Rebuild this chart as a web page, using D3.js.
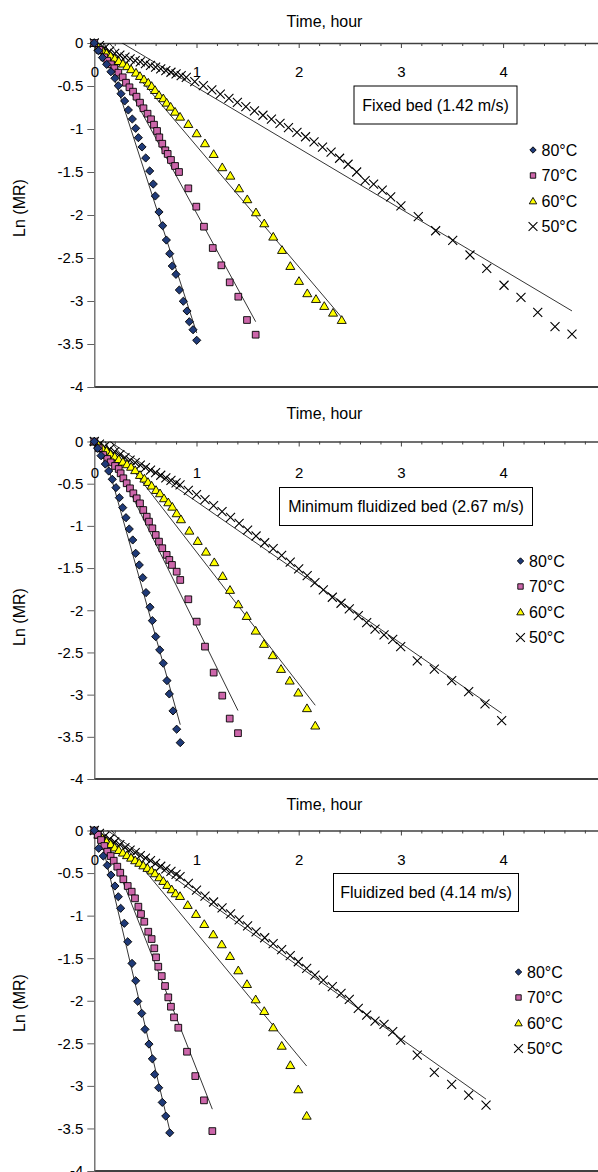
<!DOCTYPE html>
<html><head><meta charset="utf-8">
<script src="https://cdn.jsdelivr.net/npm/d3@7"></script>
<style>body{margin:0;background:#fff}svg{display:block}text{font-family:"Liberation Sans",Arial,sans-serif;fill:#000}</style>
</head><body><svg id="c" width="598" height="1172"></svg>
<script>
const seriesNames = ["80°C","70°C","60°C","50°C"];
const panelTitles = ["Fixed bed (1.42 m/s)","Minimum fluidized bed (2.67 m/s)","Fluidized bed (4.14 m/s)"];
const xAxisTitle = "Time, hour";
const yAxisTitle = "Ln (MR)";
const xTickValues = [0,1,2,3,4];
const xMinorTicks = [0.2,0.4,0.6,0.8,1.2,1.4,1.6,1.8,2.2,2.4,2.6,2.8,3.2,3.4,3.6,3.8,4.2,4.4,4.6,4.8];
const yTickValues = [0,-0.5,-1,-1.5,-2,-2.5,-3,-3.5,-4];

// Panel 1: fixed bed
const fixed80 = [[0,0],[0.04,-0.09],[0.08,-0.17],[0.121,-0.248],[0.163,-0.334],[0.202,-0.41],[0.235,-0.497],[0.261,-0.59],[0.297,-0.674],[0.333,-0.779],[0.372,-0.884],[0.405,-0.992],[0.431,-1.101],[0.467,-1.209],[0.503,-1.337],[0.542,-1.488],[0.577,-1.64],[0.597,-1.779],[0.633,-1.965],[0.669,-2.124],[0.705,-2.291],[0.738,-2.45],[0.763,-2.593],[0.799,-2.69],[0.832,-2.872],[0.871,-3.003],[0.907,-3.116],[0.93,-3.241],[0.966,-3.334],[1.002,-3.457]];
const fixed70 = [[0,0],[0.05,-0.08],[0.098,-0.166],[0.127,-0.206],[0.163,-0.248],[0.196,-0.294],[0.235,-0.345],[0.278,-0.399],[0.31,-0.462],[0.344,-0.515],[0.379,-0.566],[0.413,-0.624],[0.447,-0.694],[0.481,-0.759],[0.521,-0.822],[0.555,-0.887],[0.584,-0.95],[0.614,-1.023],[0.636,-1.097],[0.665,-1.171],[0.695,-1.248],[0.718,-1.29],[0.75,-1.36],[0.79,-1.43],[0.829,-1.5],[0.92,-1.69],[0.998,-1.903],[1.073,-2.136],[1.159,-2.384],[1.243,-2.585],[1.325,-2.783],[1.409,-2.95],[1.494,-3.221],[1.579,-3.392]];
const fixed60 = [[0,0],[0.04,-0.05],[0.08,-0.085],[0.12,-0.12],[0.16,-0.15],[0.2,-0.18],[0.24,-0.21],[0.28,-0.24],[0.32,-0.27],[0.36,-0.305],[0.408,-0.345],[0.447,-0.384],[0.486,-0.422],[0.528,-0.461],[0.561,-0.5],[0.594,-0.547],[0.633,-0.605],[0.675,-0.643],[0.708,-0.694],[0.747,-0.741],[0.79,-0.799],[0.839,-0.857],[0.92,-0.942],[1.002,-1.05],[1.083,-1.166],[1.168,-1.291],[1.252,-1.445],[1.331,-1.543],[1.416,-1.69],[1.497,-1.817],[1.582,-1.969],[1.663,-2.097],[1.751,-2.252],[1.837,-2.407],[1.918,-2.593],[2.003,-2.767],[2.084,-2.91],[2.169,-2.977],[2.25,-3.058],[2.336,-3.136],[2.421,-3.221]];
const fixed50 = [[0,0],[0.05,-0.03],[0.1,-0.06],[0.15,-0.095],[0.2,-0.12],[0.25,-0.14],[0.3,-0.165],[0.35,-0.185],[0.4,-0.205],[0.45,-0.22],[0.5,-0.24],[0.55,-0.26],[0.6,-0.28],[0.65,-0.3],[0.7,-0.32],[0.75,-0.34],[0.8,-0.36],[0.85,-0.38],[0.9,-0.4],[0.983,-0.45],[1.067,-0.495],[1.15,-0.545],[1.233,-0.595],[1.317,-0.645],[1.4,-0.69],[1.483,-0.74],[1.567,-0.79],[1.65,-0.84],[1.733,-0.885],[1.817,-0.934],[1.9,-0.985],[1.983,-1.04],[2.067,-1.09],[2.15,-1.15],[2.233,-1.21],[2.317,-1.27],[2.4,-1.34],[2.483,-1.41],[2.567,-1.5],[2.65,-1.6],[2.733,-1.64],[2.817,-1.71],[2.9,-1.79],[3.0,-1.895],[3.17,-2.02],[3.34,-2.183],[3.507,-2.294],[3.676,-2.465],[3.84,-2.62],[4.009,-2.817],[4.175,-2.957],[4.339,-3.131],[4.508,-3.299],[4.674,-3.384]];

// Panel 2: minimum fluidized bed
const min80 = [[0,0],[0.033,-0.08],[0.066,-0.168],[0.108,-0.267],[0.141,-0.35],[0.176,-0.448],[0.212,-0.547],[0.245,-0.666],[0.278,-0.784],[0.31,-0.903],[0.342,-1.037],[0.376,-1.167],[0.405,-1.325],[0.44,-1.463],[0.474,-1.614],[0.506,-1.791],[0.545,-1.964],[0.568,-2.123],[0.601,-2.313],[0.64,-2.47],[0.675,-2.628],[0.711,-2.834],[0.734,-2.992],[0.77,-3.193],[0.806,-3.41],[0.841,-3.569]];
const min70 = [[0,0],[0.044,-0.08],[0.088,-0.16],[0.127,-0.207],[0.16,-0.247],[0.203,-0.29],[0.239,-0.326],[0.258,-0.377],[0.284,-0.436],[0.317,-0.495],[0.349,-0.555],[0.382,-0.614],[0.415,-0.673],[0.447,-0.733],[0.479,-0.812],[0.513,-0.891],[0.535,-0.95],[0.568,-1.029],[0.601,-1.108],[0.633,-1.187],[0.665,-1.265],[0.708,-1.344],[0.734,-1.404],[0.76,-1.463],[0.806,-1.543],[0.841,-1.641],[0.92,-1.87],[1.002,-2.135],[1.083,-2.431],[1.168,-2.739],[1.252,-3.012],[1.325,-3.284],[1.406,-3.457]];
const min60 = [[0,0],[0.04,-0.04],[0.08,-0.08],[0.12,-0.11],[0.16,-0.15],[0.2,-0.18],[0.24,-0.21],[0.28,-0.24],[0.32,-0.27],[0.36,-0.3],[0.4,-0.34],[0.447,-0.397],[0.49,-0.44],[0.525,-0.48],[0.561,-0.523],[0.604,-0.575],[0.643,-0.614],[0.682,-0.673],[0.724,-0.721],[0.763,-0.773],[0.806,-0.851],[0.848,-0.922],[0.93,-1.057],[1.012,-1.179],[1.093,-1.306],[1.174,-1.431],[1.256,-1.594],[1.328,-1.759],[1.409,-1.929],[1.491,-2.068],[1.579,-2.242],[1.66,-2.399],[1.746,-2.533],[1.827,-2.696],[1.912,-2.834],[1.996,-2.976],[2.081,-3.161],[2.162,-3.367]];
const min50 = [[0,0],[0.05,-0.03],[0.1,-0.06],[0.15,-0.09],[0.2,-0.12],[0.25,-0.155],[0.3,-0.19],[0.35,-0.22],[0.4,-0.25],[0.45,-0.28],[0.5,-0.31],[0.55,-0.34],[0.6,-0.37],[0.65,-0.4],[0.7,-0.43],[0.75,-0.46],[0.8,-0.49],[0.839,-0.515],[0.92,-0.58],[1.0,-0.63],[1.083,-0.69],[1.167,-0.76],[1.25,-0.83],[1.333,-0.9],[1.417,-0.97],[1.5,-1.05],[1.583,-1.12],[1.667,-1.2],[1.75,-1.27],[1.833,-1.35],[1.917,-1.43],[2.0,-1.51],[2.083,-1.59],[2.159,-1.673],[2.241,-1.759],[2.329,-1.846],[2.414,-1.917],[2.495,-1.985],[2.583,-2.064],[2.665,-2.147],[2.747,-2.225],[2.835,-2.293],[2.92,-2.344],[2.998,-2.431],[3.16,-2.601],[3.327,-2.699],[3.497,-2.834],[3.663,-2.964],[3.823,-3.11],[3.986,-3.308]];

// Panel 3: fluidized bed
const flu80 = [[0,0],[0.043,-0.209],[0.088,-0.3],[0.127,-0.409],[0.163,-0.523],[0.202,-0.652],[0.235,-0.778],[0.258,-0.914],[0.294,-1.09],[0.327,-1.307],[0.369,-1.561],[0.405,-1.765],[0.425,-2.007],[0.464,-2.148],[0.496,-2.336],[0.535,-2.509],[0.568,-2.682],[0.591,-2.865],[0.63,-3.022],[0.665,-3.194],[0.699,-3.355],[0.738,-3.551]];
const flu70 = [[0,0],[0.033,-0.05],[0.066,-0.112],[0.098,-0.182],[0.127,-0.249],[0.16,-0.3],[0.19,-0.355],[0.225,-0.425],[0.254,-0.496],[0.284,-0.573],[0.327,-0.652],[0.366,-0.719],[0.398,-0.797],[0.431,-0.895],[0.457,-0.981],[0.489,-1.072],[0.528,-1.189],[0.561,-1.275],[0.587,-1.384],[0.604,-1.49],[0.626,-1.6],[0.66,-1.71],[0.692,-1.827],[0.724,-1.96],[0.75,-2.07],[0.78,-2.195],[0.822,-2.317],[0.907,-2.599],[0.988,-2.885],[1.073,-3.17],[1.155,-3.531]];
const flu60 = [[0,0],[0.04,-0.05],[0.08,-0.09],[0.12,-0.13],[0.16,-0.16],[0.2,-0.2],[0.24,-0.23],[0.28,-0.26],[0.32,-0.29],[0.36,-0.32],[0.4,-0.35],[0.44,-0.38],[0.48,-0.41],[0.52,-0.44],[0.56,-0.47],[0.594,-0.503],[0.636,-0.55],[0.675,-0.593],[0.714,-0.64],[0.757,-0.691],[0.796,-0.738],[0.839,-0.77],[0.914,-0.875],[0.995,-0.981],[1.076,-1.099],[1.164,-1.22],[1.247,-1.337],[1.328,-1.475],[1.409,-1.643],[1.494,-1.804],[1.579,-1.984],[1.663,-2.121],[1.751,-2.313],[1.834,-2.529],[1.918,-2.756],[1.996,-3.041],[2.078,-3.351]];
const flu50 = [[0,0],[0.05,-0.035],[0.1,-0.07],[0.15,-0.1],[0.2,-0.135],[0.25,-0.165],[0.3,-0.2],[0.35,-0.23],[0.4,-0.26],[0.45,-0.295],[0.5,-0.325],[0.55,-0.355],[0.6,-0.385],[0.65,-0.42],[0.7,-0.45],[0.75,-0.48],[0.8,-0.515],[0.839,-0.543],[0.92,-0.62],[1.0,-0.7],[1.083,-0.77],[1.167,-0.84],[1.25,-0.91],[1.333,-0.98],[1.417,-1.05],[1.5,-1.12],[1.583,-1.19],[1.667,-1.26],[1.75,-1.33],[1.833,-1.4],[1.917,-1.47],[1.996,-1.542],[2.078,-1.619],[2.159,-1.698],[2.241,-1.757],[2.329,-1.835],[2.414,-1.913],[2.495,-1.984],[2.583,-2.089],[2.665,-2.168],[2.747,-2.239],[2.835,-2.277],[2.92,-2.364],[2.998,-2.462],[3.16,-2.638],[3.327,-2.841],[3.497,-2.982],[3.663,-3.108],[3.833,-3.226]];

const panelSeries = [[fixed80,fixed70,fixed60,fixed50],[min80,min70,min60,min50],[flu80,flu70,flu60,flu50]];

// ---- layout / style ----
const layout = [
  {top:43, bottom:387, titleY:21, labelY:72, box:{x:354,y:86,w:163,h:38}, legX:533, legY:150, yLabY:208},
  {top:441.5, bottom:779, titleY:413.5, labelY:472.5, box:{x:279.5,y:487.5,w:253,h:38}, legX:520.5, legY:561, yLabY:617},
  {top:830.5, bottom:1171, titleY:804.5, labelY:859.5, box:{x:333.5,y:873.5,w:185,h:38}, legX:518.5, legY:972, yLabY:1003}
];
const legDy = 25.5;
const markerTypes = ["diamond","square","triangle","cross"];
const markerFill = ["#1F3A78","#CC66AA","#FFFF00","none"];
const plotSizes = [4.1,4.1,4.1,4.5];
const legendSizes = [3.2,3.3,3.4,4.4];
const svg = d3.select("#c");
const x = d3.scaleLinear().domain([0,5]).range([94.3,605.3]);

function markerPath(type, s){
  const p = d3.path();
  if(type==="diamond"){p.moveTo(0,-s);p.lineTo(s,0);p.lineTo(0,s);p.lineTo(-s,0);p.closePath();}
  else if(type==="square"){const h=s*0.82;p.rect(-h,-h,2*h,2*h);}
  else if(type==="triangle"){const h=s*1.05;p.moveTo(0,-h);p.lineTo(h*1.05,h*0.8);p.lineTo(-h*1.05,h*0.8);p.closePath();}
  else {p.moveTo(-s,-s);p.lineTo(s,s);p.moveTo(s,-s);p.lineTo(-s,s);}
  return p.toString();
}
function drawMarker(g, type, i, s){
  const el = g.append("path").attr("d", markerPath(type,s));
  if(type==="cross") el.attr("fill","none").attr("stroke","#000").attr("stroke-width",1.1);
  else el.attr("fill",markerFill[i]).attr("stroke","#000").attr("stroke-width",0.9);
}
function regress(data){
  const mx=d3.mean(data,d=>d[0]), my=d3.mean(data,d=>d[1]);
  let sxy=0,sxx=0; data.forEach(d=>{sxy+=(d[0]-mx)*(d[1]-my);sxx+=(d[0]-mx)**2;});
  const b=sxy/sxx; return {a:my-b*mx,b};
}

layout.forEach((L,pi)=>{
  const y = d3.scaleLinear().domain([0,-4]).range([L.top,L.bottom]);
  const g = svg.append("g");
  const clipId = "clip"+pi;
  svg.append("clipPath").attr("id",clipId).append("rect").attr("x",x(0)-6).attr("y",L.top-6).attr("width",x(5)-x(0)+6).attr("height",L.bottom-L.top+6);
  const lineClipId = "lclip"+pi;
  svg.append("clipPath").attr("id",lineClipId).append("rect").attr("x",x(0)).attr("y",L.top).attr("width",x(5)-x(0)).attr("height",L.bottom-L.top);

  g.append("line").attr("x1",x(0)).attr("x2",x(5)).attr("y1",L.bottom).attr("y2",L.bottom).attr("stroke","#404040").attr("stroke-width",2);

  const ya = g.append("g").attr("transform",`translate(${x(0)},0)`)
    .call(d3.axisLeft(y).tickValues(yTickValues).tickSize(7).tickSizeOuter(0).tickPadding(4).tickFormat(d=>String(d)));
  ya.select(".domain").attr("stroke","#606060").attr("stroke-width",1.3);
  ya.selectAll(".tick line").attr("stroke","#606060");
  ya.selectAll("text").attr("font-size",15).attr("fill","#000").attr("font-family","Liberation Sans, Arial, sans-serif");

  const xa = g.append("g").attr("transform",`translate(0,${L.top})`)
    .call(d3.axisBottom(x).tickValues(xTickValues).tickSize(5).tickSizeOuter(0).tickPadding(L.labelY-L.top-5-5.3).tickFormat(d3.format("d")));
  xa.select(".domain").attr("stroke","#404040").attr("stroke-width",1.3);
  xa.selectAll(".tick line").attr("stroke","#404040");
  xa.selectAll("text").attr("font-size",15).attr("fill","#000").attr("font-family","Liberation Sans, Arial, sans-serif");
  const xm = g.append("g").attr("transform",`translate(0,${L.top})`)
    .call(d3.axisBottom(x).tickValues(xMinorTicks).tickSize(3).tickFormat(""));
  xm.select(".domain").remove();
  xm.selectAll(".tick line").attr("stroke","#404040");

  g.append("text").attr("x",324.5).attr("y",L.titleY).attr("dy","0.35em").attr("text-anchor","middle").attr("font-size",16).text(xAxisTitle);
  g.append("text").attr("transform",`translate(19,${L.yLabY}) rotate(-90)`).attr("dy","0.35em").attr("text-anchor","middle").attr("font-size",16).text(yAxisTitle);

  const lines = g.append("g").attr("clip-path",`url(#${lineClipId})`);
  panelSeries[pi].forEach((data,si)=>{
    const r = regress(data);
    const t0 = d3.min(data,d=>d[0]), t1 = d3.max(data,d=>d[0]);
    lines.append("line").attr("x1",x(t0)).attr("y1",y(r.a+r.b*t0)).attr("x2",x(t1)).attr("y2",y(r.a+r.b*t1))
      .attr("stroke","#000").attr("stroke-width",0.8);
  });
  const plot = g.append("g").attr("clip-path",`url(#${clipId})`);
  for(let si=3; si>=0; si--){
    const data = panelSeries[pi][si];
    data.forEach(d=>{
      const m = plot.append("g").attr("transform",`translate(${x(d[0])},${y(d[1])})`);
      drawMarker(m, markerTypes[si], si, plotSizes[si]);
    });
  }

  g.append("rect").attr("x",L.box.x).attr("y",L.box.y).attr("width",L.box.w).attr("height",L.box.h).attr("fill","#fff").attr("stroke","#000").attr("stroke-width",1);
  g.append("text").attr("x",L.box.x+L.box.w/2).attr("y",L.box.y+L.box.h/2).attr("dy","0.35em").attr("text-anchor","middle").attr("font-size",16).text(panelTitles[pi]);

  seriesNames.forEach((nm,si)=>{
    const ly = L.legY + si*legDy;
    const m = g.append("g").attr("transform",`translate(${L.legX},${ly})`);
    drawMarker(m, markerTypes[si], si, legendSizes[si]);
    g.append("text").attr("x",L.legX+8.5).attr("y",ly).attr("dy","0.35em").attr("font-size",16).text(nm);
  });
});
</script></body></html>
